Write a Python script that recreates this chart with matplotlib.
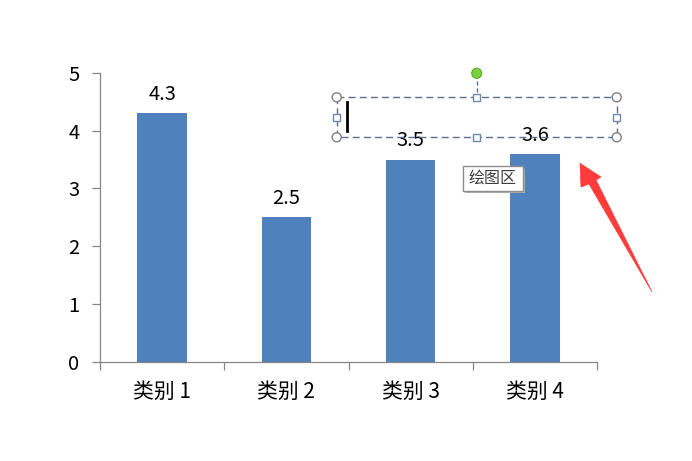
import matplotlib
matplotlib.use('Agg')
import matplotlib.pyplot as plt
from matplotlib.patches import Rectangle, Circle, Polygon
import numpy as np

plt.rcParams['font.family'] = ['Noto Sans CJK SC', 'DejaVu Sans']

# Chart data
categories = ['类别 1', '类别 2', '类别 3', '类别 4']
values = [4.3, 2.5, 3.5, 3.6]
y_ticks = [0, 1, 2, 3, 4, 5]
tooltip_text = '绘图区'

bar_color = '#4f81bd'
axis_color = '#868686'

fig = plt.figure(figsize=(6.92, 4.61), dpi=100)
ax = fig.add_axes([100 / 692, 1 - 361.7 / 461, 497 / 692, 288.7 / 461])

x = np.arange(len(categories))
bars = ax.bar(x, values, width=0.40, color=bar_color, zorder=2)
for xi, v in zip(x, values):
    ax.annotate(f'{v}', (xi, v), xytext=(0, 6), textcoords='offset points',
                ha='center', va='bottom', fontsize=14.5)

ax.set_xlim(-0.5, len(categories) - 0.5)
ax.set_ylim(0, 5)
ax.set_yticks(y_ticks)
ax.set_xticks(np.arange(len(categories) + 1) - 0.5)
ax.set_xticklabels([])
ax.set_xticks(x, minor=True)
ax.set_xticklabels(categories, minor=True, fontsize=15)
ax.tick_params(axis='x', which='major', length=5.5, color=axis_color, width=0.9)
ax.tick_params(axis='x', which='minor', length=0, pad=14)
ax.tick_params(axis='y', length=5.8, color=axis_color, width=0.9, pad=9, labelsize=14.5)

for side in ['top', 'right']:
    ax.spines[side].set_visible(False)
for side in ['left', 'bottom']:
    ax.spines[side].set_color(axis_color)
    ax.spines[side].set_linewidth(0.9)

# Overlay in pixel coordinates (selection box, tooltip, arrow)
ov = fig.add_axes([0, 0, 1, 1], facecolor='none')
ov.set_xlim(0, 692)
ov.set_ylim(461, 0)
ov.axis('off')

box_l, box_r, box_t, box_b = 336.7, 616.7, 97.3, 137.3
mid_x = (box_l + box_r) / 2
mid_y = (box_t + box_b) / 2
dash_color = '#5b6f8e'
ov.add_patch(Rectangle((box_l, box_t), box_r - box_l, box_b - box_t, fill=False,
                       edgecolor=dash_color, lw=1, ls=(0, (5, 3)), zorder=5))
ov.plot([mid_x, mid_x], [74, box_t], color=dash_color, lw=1, ls=(0, (3, 2)), zorder=5)
for cx, cy in [(box_l, box_t), (box_r, box_t), (box_l, box_b), (box_r, box_b)]:
    ov.add_patch(Circle((cx, cy), 4.5, facecolor='white', edgecolor='#7f7f7f', lw=1, zorder=6))
for cx, cy in [(mid_x, box_t), (mid_x, box_b), (box_l, mid_y), (box_r, mid_y)]:
    ov.add_patch(Rectangle((cx - 3.5, cy - 3.5), 7, 7, facecolor='white',
                           edgecolor='#6f88a8', lw=1, zorder=6))
ov.add_patch(Circle((mid_x, 73.3), 5, facecolor='#7dd33f', edgecolor='#5aa82a', lw=0.8, zorder=6))
# text cursor
ov.plot([346.7, 346.7], [101.7, 130.7], color='black', lw=2, zorder=6)

# tooltip
ov.add_patch(Rectangle((465, 168.5), 60, 24.7, facecolor='#b0b0b0', edgecolor='none', zorder=6))
ov.add_patch(Rectangle((462.7, 166), 60, 24.7, facecolor='white', edgecolor='#8c8c8c', lw=1, zorder=7))
ov.text(492.7, 178.3, tooltip_text, ha='center', va='center', fontsize=11.5,
        color='#3c3c3c', zorder=8)

# red arrow
ov.add_patch(Polygon([(580, 163.3), (601, 177), (596, 180), (652, 292), (589, 184), (581, 187)],
                     closed=True, facecolor='#ff3b3b', edgecolor='#ff3b3b', lw=0.5, zorder=6))

fig.savefig('out.png', dpi=100)
